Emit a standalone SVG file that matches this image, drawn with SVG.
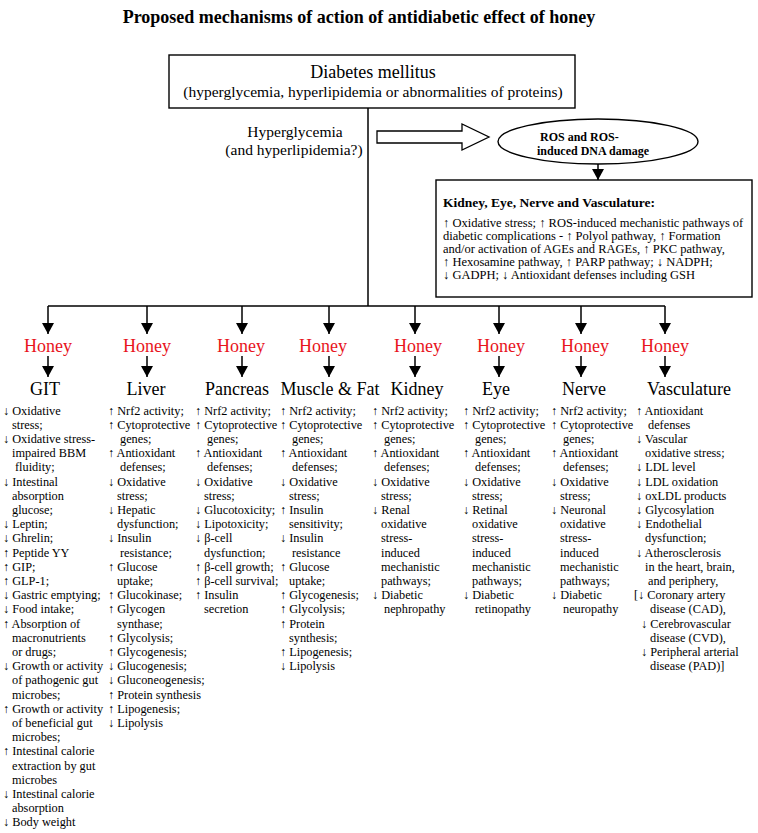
<svg xmlns="http://www.w3.org/2000/svg" width="758" height="833" viewBox="0 0 758 833">
<style>
text{font-family:"Liberation Serif","Times New Roman",serif;fill:#000}
.title{font-size:18px;font-weight:bold}
.big{font-size:18px}
.mid{font-size:15.5px}
.honey{font-size:18px;fill:#e8141c}
.organ{font-size:18px}
.list{font-size:12.3px}
.kbox{font-size:12.5px}
.head{font-size:13.5px;font-weight:bold}
.ros{font-size:12px;font-weight:bold}
.box{fill:#fff;stroke:#000;stroke-width:1.4}
.conn{stroke:#000;stroke-width:1.5;fill:none}
</style>
<defs>
<marker id="ah" markerUnits="userSpaceOnUse" markerWidth="11" markerHeight="12" refX="11" refY="6" orient="auto">
<path d="M0,0 L11,6 L0,12 z" fill="#000"/>
</marker>
</defs>
<rect width="758" height="833" fill="#fff"/>
<text class="title" x="359" y="23" text-anchor="middle">Proposed mechanisms of action of antidiabetic effect of honey</text>

<g id="connectors">
<line class="conn" x1="368" y1="108" x2="368" y2="306"/>
<line class="conn" x1="48" y1="306" x2="665" y2="306"/>
<line class="conn" x1="48" y1="306" x2="48" y2="334" marker-end="url(#ah)"/>
<line class="conn" x1="147" y1="306" x2="147" y2="334" marker-end="url(#ah)"/>
<line class="conn" x1="242" y1="306" x2="242" y2="334" marker-end="url(#ah)"/>
<line class="conn" x1="329" y1="306" x2="329" y2="334" marker-end="url(#ah)"/>
<line class="conn" x1="415" y1="306" x2="415" y2="334" marker-end="url(#ah)"/>
<line class="conn" x1="499" y1="306" x2="499" y2="334" marker-end="url(#ah)"/>
<line class="conn" x1="581" y1="306" x2="581" y2="334" marker-end="url(#ah)"/>
<line class="conn" x1="665" y1="306" x2="665" y2="334" marker-end="url(#ah)"/>
<line class="conn" x1="48" y1="356" x2="48" y2="377" marker-end="url(#ah)"/>
<line class="conn" x1="147" y1="356" x2="147" y2="377" marker-end="url(#ah)"/>
<line class="conn" x1="242" y1="356" x2="242" y2="377" marker-end="url(#ah)"/>
<line class="conn" x1="329" y1="356" x2="329" y2="377" marker-end="url(#ah)"/>
<line class="conn" x1="415" y1="356" x2="415" y2="377" marker-end="url(#ah)"/>
<line class="conn" x1="499" y1="356" x2="499" y2="377" marker-end="url(#ah)"/>
<line class="conn" x1="581" y1="356" x2="581" y2="377" marker-end="url(#ah)"/>
<line class="conn" x1="665" y1="356" x2="665" y2="377" marker-end="url(#ah)"/>
<line class="conn" x1="598" y1="164" x2="598" y2="180" marker-end="url(#ah)"/>
<polygon points="377,131 462,131 462,124 489,137 462,150 462,143 377,143" fill="#fff" stroke="#000" stroke-width="1.3"/>
</g>

<g id="diabetes">
<rect class="box" x="169" y="55" width="406" height="53"/>
<text class="big" x="373" y="78" text-anchor="middle">Diabetes mellitus</text>
<text class="mid" x="373" y="97" text-anchor="middle">(hyperglycemia, hyperlipidemia or abnormalities of proteins)</text>
</g>

<g id="hyperglycemia-label">
<text class="mid" x="295" y="137" text-anchor="middle">Hyperglycemia</text>
<text class="mid" x="294" y="155" text-anchor="middle">(and hyperlipidemia?)</text>
</g>

<g id="ros">
<ellipse cx="598" cy="141.5" rx="100" ry="22.5" fill="#fff" stroke="#000" stroke-width="1.4"/>
<text class="ros" x="540" y="141">ROS and ROS-</text>
<text class="ros" x="537" y="155">induced DNA damage</text>
</g>

<g id="complications">
<rect class="box" x="436" y="180" width="316" height="117"/>
<text class="head" x="443" y="207">Kidney, Eye, Nerve and Vasculature:</text>
<text class="kbox" x="443" y="227">↑ Oxidative stress; ↑ ROS-induced mechanistic pathways of</text>
<text class="kbox" x="443" y="240">diabetic complications - ↑ Polyol pathway, ↑ Formation</text>
<text class="kbox" x="443" y="253">and/or activation of AGEs and RAGEs, ↑ PKC pathway,</text>
<text class="kbox" x="443" y="266">↑ Hexosamine pathway, ↑ PARP pathway; ↓ NADPH;</text>
<text class="kbox" x="443" y="279">↓ GADPH; ↓ Antioxidant defenses including GSH</text>
</g>

<g id="git">
<text class="honey" x="48" y="352" text-anchor="middle">Honey</text>
<text class="organ" x="45" y="395" text-anchor="middle">GIT</text>
<text class="list" x="3" y="414.5"><tspan x="3">↓ Oxidative</tspan><tspan x="12" dy="14.2">stress;</tspan><tspan x="3" dy="14.2">↓ Oxidative stress-</tspan><tspan x="12" dy="14.2">impaired BBM</tspan><tspan x="15" dy="14.2">fluidity;</tspan><tspan x="3" dy="14.2">↓ Intestinal</tspan><tspan x="12" dy="14.2">absorption</tspan><tspan x="12" dy="14.2">glucose;</tspan><tspan x="3" dy="14.2">↓ Leptin;</tspan><tspan x="3" dy="14.2">↓ Ghrelin;</tspan><tspan x="3" dy="14.2">↑ Peptide YY</tspan><tspan x="3" dy="14.2">↑ GIP;</tspan><tspan x="3" dy="14.2">↑ GLP-1;</tspan><tspan x="3" dy="14.2">↓ Gastric emptying;</tspan><tspan x="3" dy="14.2">↓ Food intake;</tspan><tspan x="3" dy="14.2">↑ Absorption of</tspan><tspan x="12" dy="14.2">macronutrients</tspan><tspan x="12" dy="14.2">or drugs;</tspan><tspan x="3" dy="14.2">↓ Growth or activity</tspan><tspan x="12" dy="14.2">of pathogenic gut</tspan><tspan x="12" dy="14.2">microbes;</tspan><tspan x="3" dy="14.2">↑ Growth or activity</tspan><tspan x="12" dy="14.2">of beneficial gut</tspan><tspan x="12" dy="14.2">microbes;</tspan><tspan x="3" dy="14.2">↑ Intestinal calorie</tspan><tspan x="12" dy="14.2">extraction by gut</tspan><tspan x="12" dy="14.2">microbes</tspan><tspan x="3" dy="14.2">↓ Intestinal calorie</tspan><tspan x="12" dy="14.2">absorption</tspan><tspan x="3" dy="14.2">↓ Body weight</tspan></text>
</g>

<g id="liver">
<text class="honey" x="147" y="352" text-anchor="middle">Honey</text>
<text class="organ" x="146" y="395" text-anchor="middle">Liver</text>
<text class="list" x="108" y="414.5"><tspan x="108">↑ Nrf2 activity;</tspan><tspan x="108" dy="14.2">↑ Cytoprotective</tspan><tspan x="120" dy="14.2">genes;</tspan><tspan x="108" dy="14.2">↑ Antioxidant</tspan><tspan x="120" dy="14.2">defenses;</tspan><tspan x="108" dy="14.2">↓ Oxidative</tspan><tspan x="117" dy="14.2">stress;</tspan><tspan x="108" dy="14.2">↓ Hepatic</tspan><tspan x="117" dy="14.2">dysfunction;</tspan><tspan x="108" dy="14.2">↓ Insulin</tspan><tspan x="120" dy="14.2">resistance;</tspan><tspan x="108" dy="14.2">↑ Glucose</tspan><tspan x="117" dy="14.2">uptake;</tspan><tspan x="108" dy="14.2">↑ Glucokinase;</tspan><tspan x="108" dy="14.2">↑ Glycogen</tspan><tspan x="117" dy="14.2">synthase;</tspan><tspan x="108" dy="14.2">↑ Glycolysis;</tspan><tspan x="108" dy="14.2">↑ Glycogenesis;</tspan><tspan x="108" dy="14.2">↓ Glucogenesis;</tspan><tspan x="108" dy="14.2">↓ Gluconeogenesis;</tspan><tspan x="108" dy="14.2">↑ Protein synthesis</tspan><tspan x="108" dy="14.2">↑ Lipogenesis;</tspan><tspan x="108" dy="14.2">↓ Lipolysis</tspan></text>
</g>

<g id="pancreas">
<text class="honey" x="241" y="352" text-anchor="middle">Honey</text>
<text class="organ" x="237" y="395" text-anchor="middle">Pancreas</text>
<text class="list" x="195" y="414.5"><tspan x="195">↑ Nrf2 activity;</tspan><tspan x="195" dy="14.2">↑ Cytoprotective</tspan><tspan x="207" dy="14.2">genes;</tspan><tspan x="195" dy="14.2">↑ Antioxidant</tspan><tspan x="207" dy="14.2">defenses;</tspan><tspan x="195" dy="14.2">↓ Oxidative</tspan><tspan x="204" dy="14.2">stress;</tspan><tspan x="195" dy="14.2">↓ Glucotoxicity;</tspan><tspan x="195" dy="14.2">↓ Lipotoxicity;</tspan><tspan x="195" dy="14.2">↓ β-cell</tspan><tspan x="204" dy="14.2">dysfunction;</tspan><tspan x="195" dy="14.2">↑ β-cell growth;</tspan><tspan x="195" dy="14.2">↑ β-cell survival;</tspan><tspan x="195" dy="14.2">↑ Insulin</tspan><tspan x="204" dy="14.2">secretion</tspan></text>
</g>

<g id="muscle-fat">
<text class="honey" x="323" y="352" text-anchor="middle">Honey</text>
<text class="organ" x="330" y="395" text-anchor="middle">Muscle &amp; Fat</text>
<text class="list" x="280" y="414.5"><tspan x="280">↑ Nrf2 activity;</tspan><tspan x="280" dy="14.2">↑ Cytoprotective</tspan><tspan x="292" dy="14.2">genes;</tspan><tspan x="280" dy="14.2">↑ Antioxidant</tspan><tspan x="292" dy="14.2">defenses;</tspan><tspan x="280" dy="14.2">↓ Oxidative</tspan><tspan x="289" dy="14.2">stress;</tspan><tspan x="280" dy="14.2">↑ Insulin</tspan><tspan x="289" dy="14.2">sensitivity;</tspan><tspan x="280" dy="14.2">↓ Insulin</tspan><tspan x="292" dy="14.2">resistance</tspan><tspan x="280" dy="14.2">↑ Glucose</tspan><tspan x="289" dy="14.2">uptake;</tspan><tspan x="280" dy="14.2">↑ Glycogenesis;</tspan><tspan x="280" dy="14.2">↑ Glycolysis;</tspan><tspan x="280" dy="14.2">↑ Protein</tspan><tspan x="289" dy="14.2">synthesis;</tspan><tspan x="280" dy="14.2">↑ Lipogenesis;</tspan><tspan x="280" dy="14.2">↓ Lipolysis</tspan></text>
</g>

<g id="kidney">
<text class="honey" x="418" y="352" text-anchor="middle">Honey</text>
<text class="organ" x="417" y="395" text-anchor="middle">Kidney</text>
<text class="list" x="372" y="414.5"><tspan x="372">↑ Nrf2 activity;</tspan><tspan x="372" dy="14.2">↑ Cytoprotective</tspan><tspan x="384" dy="14.2">genes;</tspan><tspan x="372" dy="14.2">↑ Antioxidant</tspan><tspan x="384" dy="14.2">defenses;</tspan><tspan x="372" dy="14.2">↓ Oxidative</tspan><tspan x="381" dy="14.2">stress;</tspan><tspan x="372" dy="14.2">↓ Renal</tspan><tspan x="381" dy="14.2">oxidative</tspan><tspan x="381" dy="14.2">stress-</tspan><tspan x="381" dy="14.2">induced</tspan><tspan x="381" dy="14.2">mechanistic</tspan><tspan x="381" dy="14.2">pathways;</tspan><tspan x="372" dy="14.2">↓ Diabetic</tspan><tspan x="384" dy="14.2">nephropathy</tspan></text>
</g>

<g id="eye">
<text class="honey" x="501" y="352" text-anchor="middle">Honey</text>
<text class="organ" x="496" y="395" text-anchor="middle">Eye</text>
<text class="list" x="463" y="414.5"><tspan x="463">↑ Nrf2 activity;</tspan><tspan x="463" dy="14.2">↑ Cytoprotective</tspan><tspan x="475" dy="14.2">genes;</tspan><tspan x="463" dy="14.2">↑ Antioxidant</tspan><tspan x="475" dy="14.2">defenses;</tspan><tspan x="463" dy="14.2">↓ Oxidative</tspan><tspan x="472" dy="14.2">stress;</tspan><tspan x="463" dy="14.2">↓ Retinal</tspan><tspan x="472" dy="14.2">oxidative</tspan><tspan x="472" dy="14.2">stress-</tspan><tspan x="472" dy="14.2">induced</tspan><tspan x="472" dy="14.2">mechanistic</tspan><tspan x="472" dy="14.2">pathways;</tspan><tspan x="463" dy="14.2">↓ Diabetic</tspan><tspan x="475" dy="14.2">retinopathy</tspan></text>
</g>

<g id="nerve">
<text class="honey" x="585" y="352" text-anchor="middle">Honey</text>
<text class="organ" x="584" y="395" text-anchor="middle">Nerve</text>
<text class="list" x="551" y="414.5"><tspan x="551">↑ Nrf2 activity;</tspan><tspan x="551" dy="14.2">↑ Cytoprotective</tspan><tspan x="563" dy="14.2">genes;</tspan><tspan x="551" dy="14.2">↑ Antioxidant</tspan><tspan x="563" dy="14.2">defenses;</tspan><tspan x="551" dy="14.2">↓ Oxidative</tspan><tspan x="560" dy="14.2">stress;</tspan><tspan x="551" dy="14.2">↓ Neuronal</tspan><tspan x="560" dy="14.2">oxidative</tspan><tspan x="560" dy="14.2">stress-</tspan><tspan x="560" dy="14.2">induced</tspan><tspan x="560" dy="14.2">mechanistic</tspan><tspan x="560" dy="14.2">pathways;</tspan><tspan x="551" dy="14.2">↓ Diabetic</tspan><tspan x="563" dy="14.2">neuropathy</tspan></text>
</g>

<g id="vasculature">
<text class="honey" x="665" y="352" text-anchor="middle">Honey</text>
<text class="organ" x="689" y="395" text-anchor="middle">Vasculature</text>
<text class="list" x="636" y="414.5"><tspan x="636">↑ Antioxidant</tspan><tspan x="648" dy="14.2">defenses</tspan><tspan x="636" dy="14.2">↓ Vascular</tspan><tspan x="645" dy="14.2">oxidative stress;</tspan><tspan x="636" dy="14.2">↓ LDL level</tspan><tspan x="636" dy="14.2">↓ LDL oxidation</tspan><tspan x="636" dy="14.2">↓ oxLDL products</tspan><tspan x="636" dy="14.2">↓ Glycosylation</tspan><tspan x="636" dy="14.2">↓ Endothelial</tspan><tspan x="645" dy="14.2">dysfunction;</tspan><tspan x="636" dy="14.2">↓ Atherosclerosis</tspan><tspan x="645" dy="14.2">in the heart, brain,</tspan><tspan x="648" dy="14.2">and periphery,</tspan><tspan x="634" dy="14.2">[↓ Coronary artery</tspan><tspan x="650" dy="14.2">disease (CAD),</tspan><tspan x="641" dy="14.2">↓ Cerebrovascular</tspan><tspan x="650" dy="14.2">disease (CVD),</tspan><tspan x="641" dy="14.2">↓ Peripheral arterial</tspan><tspan x="650" dy="14.2">disease (PAD)]</tspan></text>
</g>
</svg>
